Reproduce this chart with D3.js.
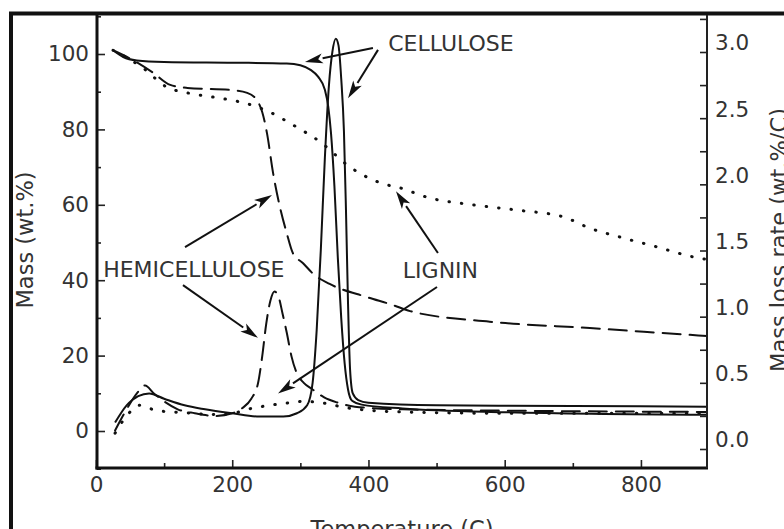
<!DOCTYPE html>
<html>
<head>
<meta charset="utf-8">
<script src="https://cdn.jsdelivr.net/npm/d3@7"></script>
<style>
  html, body { margin: 0; padding: 0; background: #fff; }
  svg { display: block; }
  text { font-family: "DejaVu Sans", Verdana, sans-serif; fill: #333; }
</style>
</head>
<body>
<svg id="chart" width="784" height="529"></svg>
<script>
// Thermogravimetric (TG) mass curves, left axis, wt.%
const tCelluloseTG = [25, 40, 60, 100, 200, 280, 300, 315, 326, 336, 341, 345, 350, 355, 360, 365, 370, 376, 390, 450, 600, 897];
const massCellulose = [101, 99.2, 98.3, 97.9, 97.7, 97.5, 97, 95.8, 94, 90.5, 86, 79, 65, 46, 30, 18, 11, 8, 7, 6, 5, 4.3];

const tHemiTG = [25, 54, 84, 109, 134, 201, 222, 236, 244, 251, 260, 270, 280, 289, 304, 320, 343, 398, 436, 461, 578, 725, 872, 897];
const massHemi = [101, 98.4, 95, 91.8, 91, 90.4, 89.7, 87.8, 84.6, 79, 68.4, 59.4, 52.5, 47.2, 44.5, 41.5, 39, 35.5, 33.4, 31.8, 29, 27.3, 25.5, 25.2];

const tLigninTG = [25, 69, 104, 134, 178, 211, 236, 255, 289, 329, 373, 427, 442, 490, 553, 618, 686, 725, 774, 824, 876, 897];
const massLignin = [101, 96.3, 91.2, 89.7, 88.4, 87.3, 86, 84.6, 81.2, 76.7, 70, 65.3, 64.7, 61.8, 60, 58.6, 56.8, 53.8, 51.2, 48.8, 46.2, 45.5];

// Derivative (DTG) mass loss rate curves, right axis, wt.%/C
const tCelluloseDTG = [28, 45, 62, 78, 100, 130, 160, 200, 240, 275, 295, 310, 318, 324, 330, 336, 342, 347, 352, 356, 360, 364, 367, 370, 373, 377, 385, 400, 500, 700, 897];
const rateCellulose = [0.2, 0.33, 0.4, 0.42, 0.38, 0.33, 0.3, 0.27, 0.245, 0.245, 0.27, 0.33, 0.5, 0.9, 1.5, 2.2, 2.75, 3.0, 3.1, 3.05, 2.8, 2.4, 1.8, 1.1, 0.6, 0.42, 0.37, 0.35, 0.33, 0.325, 0.32];

const tHemiDTG = [28, 45, 60, 72, 85, 100, 120, 145, 175, 200, 215, 228, 238, 244, 250, 256, 262, 268, 274, 280, 287, 295, 305, 318, 335, 355, 380, 450, 600, 897];
const rateHemi = [0.14, 0.3, 0.42, 0.48, 0.42, 0.36, 0.3, 0.27, 0.25, 0.27, 0.31, 0.38, 0.5, 0.7, 0.95, 1.12, 1.19, 1.15, 1.02, 0.88, 0.7, 0.57, 0.5, 0.45, 0.39, 0.35, 0.32, 0.3, 0.29, 0.28];

const tLigninDTG = [28, 45, 64, 89, 113, 143, 170, 200, 231, 255, 285, 304, 330, 370, 450, 600, 897];
const rateLignin = [0.12, 0.25, 0.33, 0.29, 0.28, 0.27, 0.26, 0.27, 0.31, 0.33, 0.35, 0.36, 0.35, 0.31, 0.28, 0.27, 0.27];

// Axis ticks
const tempTicks = [0, 200, 400, 600, 800];
const tempMinorTicks = [100, 300, 500, 700];
const massTicks = [0, 20, 40, 60, 80, 100];
const massMinorTicks = [-10, 10, 30, 50, 70, 90, 110];
const rateTicks = [0, 0.5, 1, 1.5, 2, 2.5, 3];
const rateMinorTicks = [-0.25, 0.25, 0.75, 1.25, 1.75, 2.25, 2.75, 3.25];

// Labels and arrows: positions given as [temperature, value, axis]
const labels = [
  { text: "CELLULOSE", at: [429, 100.8, "m"] },
  { text: "HEMICELLULOSE", at: [10.5, 40.8, "m"] },
  { text: "LIGNIN", at: [450.5, 40.6, "m"] }
];
const arrows = [
  { from: [406.6, 101.6, "m"], to: [306.8, 97.9, "m"] },
  { from: [414, 101.1, "m"], to: [370, 2.65, "r"] },
  { from: [130.7, 48.8, "m"], to: [258.4, 62.6, "m"] },
  { from: [127.7, 38.7, "m"], to: [237.8, 0.84, "r"] },
  { from: [502, 47.2, "m"], to: [440.4, 63.6, "m"] },
  { from: [500.6, 38.2, "m"], to: [267.2, 0.42, "r"] }
];

const svg = d3.select("#chart");

const plotLeft = 97, plotRight = 707, plotTop = 15, plotBottom = 468;

const x = d3.scaleLinear().domain([0, 897]).range([96, 707]);
const yMass = d3.scaleLinear().domain([0, 100]).range([431, 54]);
const yRate = d3.scaleLinear().domain([0, 3]).range([449, 52]);

// outer frame of the figure
svg.append("path")
  .attr("d", "M11,540V13.5H800")
  .attr("fill", "none").attr("stroke", "#111").attr("stroke-width", 4);

const plot = svg.append("g");

function drawCurve(ts, vs, scale, dash, width) {
  const pts = ts.map((t, i) => [t, vs[i]]);
  const line = d3.line()
    .x(d => x(d[0]))
    .y(d => scale(d[1]))
    .curve(d3.curveMonotoneX);
  plot.append("path")
    .datum(pts)
    .attr("d", line)
    .attr("fill", "none")
    .attr("stroke", "#111")
    .attr("stroke-width", width)
    .attr("stroke-linecap", dash ? "round" : "butt")
    .attr("stroke-dasharray", dash || null);
}

const LONG_DASH = "18,9";
const DOTS = "0.5,12";

drawCurve(tCelluloseTG, massCellulose, yMass, null, 2);
drawCurve(tHemiTG, massHemi, yMass, LONG_DASH, 2);
drawCurve(tLigninTG, massLignin, yMass, DOTS, 3);
drawCurve(tCelluloseDTG, rateCellulose, yRate, null, 2);
drawCurve(tHemiDTG, rateHemi, yRate, LONG_DASH, 2);
drawCurve(tLigninDTG, rateLignin, yRate, DOTS, 3);

// axes
function styleAxis(g) {
  g.select(".domain").remove();
  g.selectAll(".tick line").attr("stroke", "#222").attr("stroke-width", 1.6);
  g.selectAll(".tick text")
    .style("font-family", "'DejaVu Sans', Verdana, sans-serif")
    .style("font-size", "21.5px")
    .attr("fill", "#333");
}

svg.append("g").attr("transform", `translate(${plotLeft},0)`)
  .call(d3.axisLeft(yMass).tickValues(massTicks).tickSize(-8).tickPadding(8).tickFormat(d3.format("d")))
  .call(styleAxis);
svg.append("g").attr("transform", `translate(${plotLeft},0)`)
  .call(d3.axisLeft(yMass).tickValues(massMinorTicks).tickSize(-4).tickFormat(""))
  .call(styleAxis);

svg.append("g").attr("transform", `translate(0,${plotBottom})`)
  .call(d3.axisBottom(x).tickValues(tempTicks).tickSize(-8).tickPadding(9).tickFormat(d3.format("d")))
  .call(styleAxis);
svg.append("g").attr("transform", `translate(0,${plotBottom})`)
  .call(d3.axisBottom(x).tickValues(tempMinorTicks).tickSize(-5).tickFormat(""))
  .call(styleAxis);

const rAxis = svg.append("g").attr("transform", `translate(${plotRight},0)`)
  .call(d3.axisRight(yRate).tickValues(rateTicks).tickSize(-7).tickPadding(8).tickFormat(d3.format(".1f")))
  .call(styleAxis);
rAxis.selectAll(".tick text").attr("transform", "translate(0,-9)");
svg.append("g").attr("transform", `translate(${plotRight},0)`)
  .call(d3.axisRight(yRate).tickValues(rateMinorTicks.filter(v => yRate(v) < plotBottom && yRate(v) > plotTop)).tickSize(-7).tickFormat(""))
  .call(styleAxis);

// axis lines
svg.append("line").attr("x1", plotLeft).attr("x2", plotLeft).attr("y1", plotTop).attr("y2", plotBottom + 1.5)
  .attr("stroke", "#111").attr("stroke-width", 3);
svg.append("line").attr("x1", plotLeft - 1.5).attr("x2", plotRight + 1).attr("y1", plotBottom).attr("y2", plotBottom)
  .attr("stroke", "#111").attr("stroke-width", 3);
svg.append("line").attr("x1", plotRight).attr("x2", plotRight).attr("y1", plotTop).attr("y2", plotBottom)
  .attr("stroke", "#222").attr("stroke-width", 2);

// axis titles
svg.append("text")
  .attr("transform", "translate(33,240) rotate(-90)")
  .attr("text-anchor", "middle")
  .style("font-size", "22.5px")
  .text("Mass (wt.%)");
svg.append("text")
  .attr("transform", "translate(787,240) rotate(-90)")
  .attr("text-anchor", "middle")
  .style("font-size", "22.5px")
  .text("Mass loss rate (wt.%/C)");
svg.append("text")
  .attr("x", (plotLeft + plotRight) / 2).attr("y", 537)
  .attr("text-anchor", "middle")
  .style("font-size", "22.5px")
  .text("Temperature (C)");

// annotations
function pos(p) {
  return [x(p[0]), p[2] === "r" ? yRate(p[1]) : yMass(p[1])];
}

labels.forEach(l => {
  const [px, py] = pos(l.at);
  svg.append("text").attr("x", px).attr("y", py)
    .style("font-size", "22px")
    .text(l.text);
});

arrows.forEach(a => {
  const [x0, y0] = pos(a.from);
  const [x1, y1] = pos(a.to);
  const ang = Math.atan2(y1 - y0, x1 - x0);
  const len = 18, hw = 5;
  const bx = x1 - len * Math.cos(ang), by = y1 - len * Math.sin(ang);
  svg.append("line")
    .attr("x1", x0).attr("y1", y0).attr("x2", bx).attr("y2", by)
    .attr("stroke", "#111").attr("stroke-width", 2);
  const nx = -Math.sin(ang) * hw, ny = Math.cos(ang) * hw;
  svg.append("path")
    .attr("d", `M${x1},${y1}L${bx + nx},${by + ny}L${bx + len * 0.25 * Math.cos(ang)},${by + len * 0.25 * Math.sin(ang)}L${bx - nx},${by - ny}Z`)
    .attr("fill", "#111");
});
</script>
</body>
</html>
